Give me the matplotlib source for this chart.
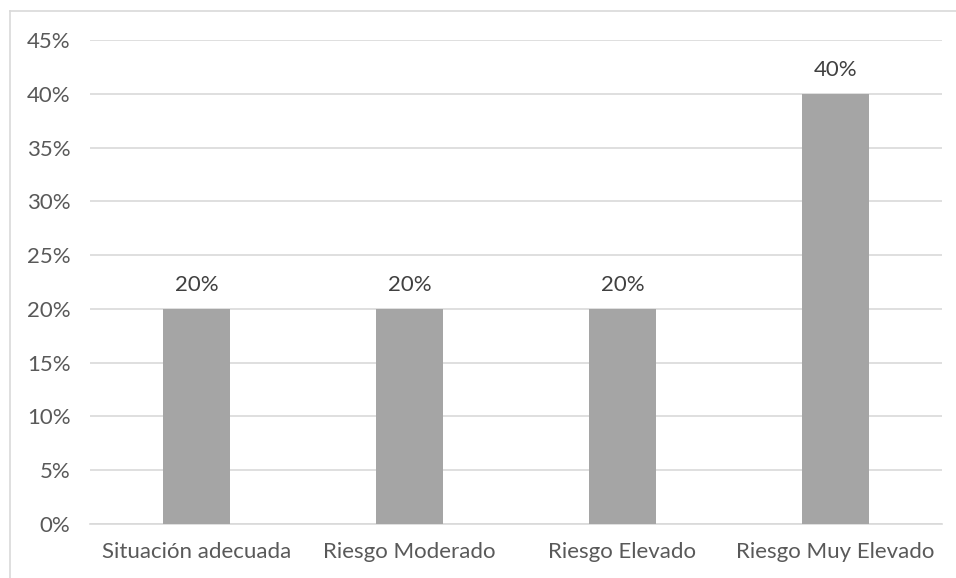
import matplotlib.pyplot as plt
from matplotlib.lines import Line2D

categorias = ["Situación adecuada", "Riesgo Moderado", "Riesgo Elevado", "Riesgo Muy Elevado"]
valores = [20, 20, 20, 40]
ticks_y = [0, 5, 10, 15, 20, 25, 30, 35, 40, 45]

plt.rcParams['font.family'] = ['Lato', 'DejaVu Sans']
texto = '#595959'
tam = 16

fig = plt.figure(figsize=(9.56, 5.78), dpi=100)
ax = fig.add_axes([90/956, 1 - 524/578, 852/956, (524 - 40)/578])

x = range(len(categorias))
ax.bar(x, valores, width=0.31, color='#A5A5A5', zorder=3)

for xi, v in zip(x, valores):
    ax.text(xi, v + 1.3, f"{v}%", ha='center', va='bottom', fontsize=tam, color='#404040')

ax.set_xlim(-0.5, 3.5)
ax.set_ylim(0, 45)
ax.set_yticks(ticks_y)
ax.set_yticklabels([f"{t}%" for t in ticks_y])
ax.set_xticks(list(x))
ax.set_xticklabels(categorias)
ax.tick_params(axis='both', length=0, labelsize=tam, colors=texto)
ax.tick_params(axis='y', pad=14)
ax.tick_params(axis='x', pad=13)

ax.grid(axis='y', color='#D9D9D9', linewidth=1.2, zorder=0)
for lado in ['top', 'right', 'left']:
    ax.spines[lado].set_visible(False)
ax.spines['bottom'].set_color('#D9D9D9')
ax.spines['bottom'].set_linewidth(1.2)

# marco exterior (solo arriba e izquierda)
fig.add_artist(Line2D([9.5/956, 9.5/956], [0, 1 - 11/578], transform=fig.transFigure, color='#D9D9D9', linewidth=1.2))
fig.add_artist(Line2D([9.5/956, 1], [1 - 11/578, 1 - 11/578], transform=fig.transFigure, color='#D9D9D9', linewidth=1.2))

fig.savefig('out.png', dpi=100)
